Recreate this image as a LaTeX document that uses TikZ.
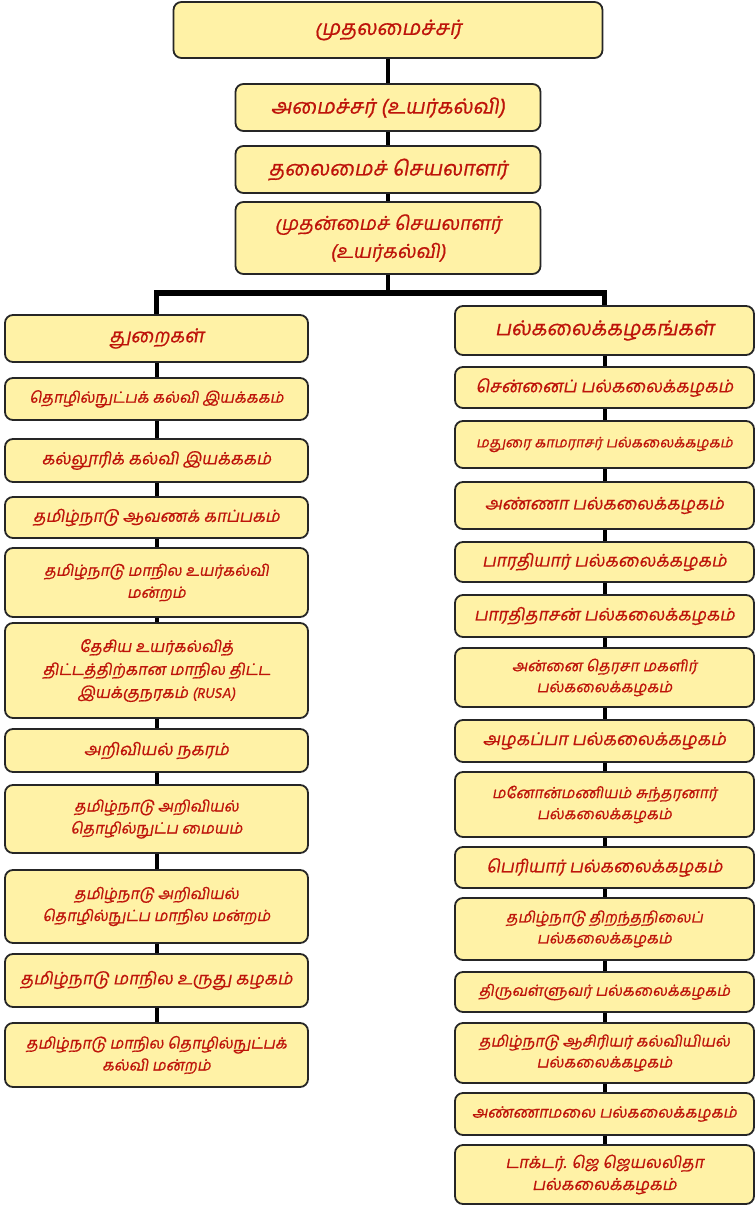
\documentclass[tikz,border=0pt]{standalone}
\usepackage{fontspec}
\usepackage{xcolor}
\usepackage{tikz}
\usetikzlibrary{calc,positioning}
\newfontfamily\tamil[Script=Tamil,FakeSlant=0.18,FakeBold=0.7]{Hind Madurai}
\definecolor{boxfill}{HTML}{FFF2A6}
\definecolor{boxline}{HTML}{262626}
\definecolor{boxtext}{HTML}{BE140A}

\begin{document}
\begin{tikzpicture}[x=1pt, y=-1pt,
    box/.style={draw=boxline, line width=1.8pt, fill=boxfill, rounded corners=8pt,
        text=boxtext, align=center, inner sep=2pt, font=\tamil\fontsize{15.5}{22}\selectfont},
    tsize/.style args={#1/#2}{font=\tamil\fontsize{#1}{#2}\selectfont},
    leftbox/.style={box, minimum width=303},
    rightbox/.style={box, minimum width=299},
    link/.style={line width=4pt, black},
    barline/.style={line width=5.5pt, black, line join=miter}]

\useasboundingbox (0,0) rectangle (755,1206);

% Top of the chain
\node[box, tsize=21/26, minimum width=429, minimum height=56] (cm) at (388,30) {முதலமைச்சர்};
\node[box, tsize=20.8/27, minimum width=305, minimum height=47] (min) at (388,107.5) {அமைச்சர் (உயர்கல்வி)};
\node[box, tsize=20.8/27, minimum width=305, minimum height=47] (cs) at (388,169.5) {தலைமைச் செயலாளர்};
\node[box, tsize=19.3/28, minimum width=305, minimum height=72] (ps) at (388,238) {முதன்மைச் செயலாளர்\\(உயர்கல்வி)};

% Left column: departments
\node[leftbox, tsize=19.3/27, minimum height=47] (d0) at (156.5,338.5) {துறைகள்};
\node[leftbox, minimum height=42] (d1) at (156.5,399) {தொழில்நுட்பக் கல்வி இயக்ககம்};
\node[leftbox, tsize=16.9/22, minimum height=43] (d2) at (156.5,460.5) {கல்லூரிக் கல்வி இயக்ககம்};
\node[leftbox, tsize=16.6/22, minimum height=41] (d3) at (156.5,517.5) {தமிழ்நாடு ஆவணக் காப்பகம்};
\node[leftbox, minimum height=69] (d4) at (156.5,582.5) {தமிழ்நாடு மாநில உயர்கல்வி\\மன்றம்};
\node[leftbox, tsize=16/23, minimum height=95] (d5) at (156.5,670.5) {தேசிய உயர்கல்வித்\\திட்டத்திற்கான மாநில திட்ட\\இயக்குநரகம் {\fontsize{14.5}{23}\selectfont(RUSA)}};
\node[leftbox, tsize=17/22, minimum height=43] (d6) at (156.5,750.5) {அறிவியல் நகரம்};
\node[leftbox, minimum height=68] (d7) at (156.5,819) {தமிழ்நாடு அறிவியல்\\தொழில்நுட்ப மையம்};
\node[leftbox, minimum height=73] (d8) at (156.5,906.5) {தமிழ்நாடு அறிவியல்\\தொழில்நுட்ப மாநில மன்றம்};
\node[leftbox, tsize=17.2/22, minimum height=53] (d9) at (156.5,980.5) {தமிழ்நாடு மாநில உருது கழகம்};
\node[leftbox, minimum height=64] (d10) at (156.5,1055) {தமிழ்நாடு மாநில தொழில்நுட்பக்\\கல்வி மன்றம்};

% Right column: universities
\node[rightbox, tsize=20.5/27, minimum height=49] (u0) at (604.5,330.5) {பல்கலைக்கழகங்கள்};
\node[rightbox, tsize=17.4/22, minimum height=41] (u1) at (604.5,387.5) {சென்னைப் பல்கலைக்கழகம்};
\node[rightbox, tsize=14.5/20, minimum height=47] (u2) at (604.5,444.5) {மதுரை காமராசர் பல்கலைக்கழகம்};
\node[rightbox, tsize=17.3/22, minimum height=47] (u3) at (604.5,505.5) {அண்ணா பல்கலைக்கழகம்};
\node[rightbox, tsize=17.4/22, minimum height=40] (u4) at (604.5,562) {பாரதியார் பல்கலைக்கழகம்};
\node[rightbox, tsize=17.2/22, minimum height=42] (u5) at (604.5,616) {பாரதிதாசன் பல்கலைக்கழகம்};
\node[rightbox, tsize=15.5/21, minimum height=59] (u6) at (604.5,677.5) {அன்னை தெரசா மகளிர்\\பல்கலைக்கழகம்};
\node[rightbox, tsize=17.6/22, minimum height=42] (u7) at (604.5,741) {அழகப்பா பல்கலைக்கழகம்};
\node[rightbox, tsize=15.4/21, minimum height=65] (u8) at (604.5,804.5) {மனோன்மணியம் சுந்தரனார்\\பல்கலைக்கழகம்};
\node[rightbox, tsize=17.5/22, minimum height=41] (u9) at (604.5,867.5) {பெரியார் பல்கலைக்கழகம்};
\node[rightbox, tsize=15.4/21, minimum height=62] (u10) at (604.5,929) {தமிழ்நாடு திறந்தநிலைப்\\பல்கலைக்கழகம்};
\node[rightbox, tsize=15.4/21, minimum height=40] (u11) at (604.5,992) {திருவள்ளுவர் பல்கலைக்கழகம்};
\node[rightbox, tsize=15.5/21, minimum height=60] (u12) at (604.5,1053) {தமிழ்நாடு ஆசிரியர் கல்வியியல்\\பல்கலைக்கழகம்};
\node[rightbox, tsize=15.7/21, minimum height=42] (u13) at (604.5,1114) {அண்ணாமலை பல்கலைக்கழகம்};
\node[rightbox, tsize=16.5/22, minimum height=59] (u14) at (604.5,1174.5) {டாக்டர். ஜெ ஜெயலலிதா\\பல்கலைக்கழகம்};

% Connectors down the top chain
\foreach \a/\b in {cm/min, min/cs, cs/ps}
    \draw[link] (\a.south) -- (\b.north);

% Split bar to both columns
\coordinate (split) at ($(ps.south)+(0,18)$);
\draw[link] (ps.south) -- (split);
\draw[barline] (d0.north) -- (d0.north |- split) -- (u0.north |- split) -- (u0.north);

% Chains in the two columns
\foreach \a/\b in {d0/d1, d1/d2, d2/d3, d3/d4, d4/d5, d5/d6, d6/d7, d7/d8, d8/d9, d9/d10}
    \draw[link] (\a.south) -- (\b.north);
\foreach \a/\b in {u0/u1, u1/u2, u2/u3, u3/u4, u4/u5, u5/u6, u6/u7, u7/u8, u8/u9, u9/u10, u10/u11, u11/u12, u12/u13, u13/u14}
    \draw[link] (\a.south) -- (\b.north);

\end{tikzpicture}
\end{document}
